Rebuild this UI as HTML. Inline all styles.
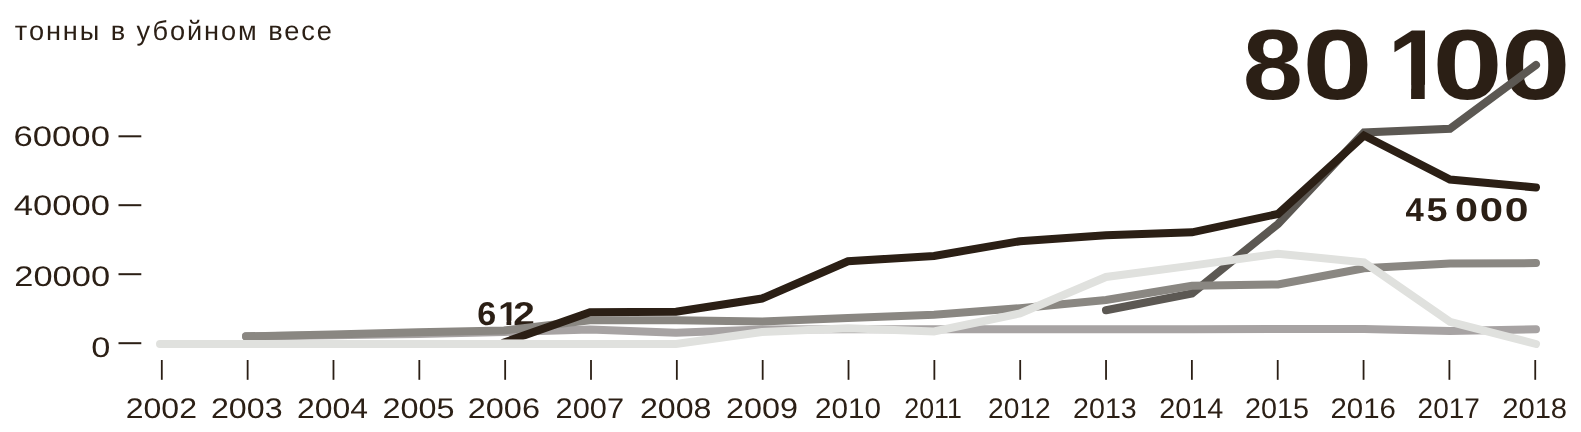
<!DOCTYPE html>
<html><head><meta charset="utf-8"><style>
html,body{margin:0;padding:0;background:#fff;}
body{width:1581px;height:432px;overflow:hidden;}
svg{display:block;will-change:transform}
text{font-family:"Liberation Sans",sans-serif;fill:#2b1f15;text-rendering:geometricPrecision;}
.ax{font-size:28.4px;}
.title{font-size:27.2px;}
.big{font-size:99.6px;font-weight:bold;}
.lab{font-size:33px;font-weight:bold;}
polyline{fill:none;stroke-width:8.0;stroke-linecap:round;stroke-linejoin:miter;}
</style></head><body>
<svg width="1581" height="432" viewBox="0 0 1581 432">
<defs><clipPath id="cg1"><rect x="0" y="0" width="1581" height="84.76"/><rect x="1411.10" y="0" width="13.62" height="432"/></clipPath><clipPath id="ck1"><rect x="0" y="0" width="1581" height="320.87"/><rect x="506.49" y="0" width="4.75" height="432"/></clipPath></defs>
<text id="title" class="title" x="14.82" y="40.02" textLength="317.04" lengthAdjust="spacing">тонны в убойном весе</text>
<text id="y60" class="ax" transform="translate(13.53 145.91) scale(1.2207 1)">60000</text>
<text id="y40" class="ax" transform="translate(13.87 214.74) scale(1.2179 1)">40000</text>
<text id="y20" class="ax" transform="translate(14.28 286.00) scale(1.2131 1)">20000</text>
<text id="y0" class="ax" transform="translate(91.13 356.87) scale(1.2099 1)">0</text>
<text id="x2002" class="ax" transform="translate(125.70 417.75) scale(1.1280 1)">2002</text>
<text id="x2003" class="ax" transform="translate(210.92 417.75) scale(1.1343 1)">2003</text>
<text id="x2004" class="ax" transform="translate(297.01 417.75) scale(1.1236 1)">2004</text>
<text id="x2005" class="ax" transform="translate(382.42 417.75) scale(1.1392 1)">2005</text>
<text id="x2006" class="ax" transform="translate(467.75 417.75) scale(1.1431 1)">2006</text>
<text id="x2007" class="ax" transform="translate(555.62 417.75) scale(1.0843 1)">2007</text>
<text id="x2008" class="ax" transform="translate(639.94 417.75) scale(1.1325 1)">2008</text>
<text id="x2009" class="ax" transform="translate(726.06 417.75) scale(1.1401 1)">2009</text>
<text id="x2010" class="ax" transform="translate(815.04 417.75) scale(1.0435 1)">2010</text>
<text id="x2011" class="ax" transform="translate(904.30 417.75) scale(0.9421 1)">2011</text>
<text id="x2012" class="ax" transform="translate(988.11 417.75) scale(0.9916 1)">2012</text>
<text id="x2013" class="ax" transform="translate(1073.07 417.75) scale(1.0077 1)">2013</text>
<text id="x2014" class="ax" transform="translate(1159.24 417.75) scale(1.0157 1)">2014</text>
<text id="x2015" class="ax" transform="translate(1245.11 417.75) scale(1.0131 1)">2015</text>
<text id="x2016" class="ax" transform="translate(1330.53 417.75) scale(1.0351 1)">2016</text>
<text id="x2017" class="ax" transform="translate(1417.62 417.75) scale(0.9861 1)">2017</text>
<text id="x2018" class="ax" transform="translate(1502.15 417.75) scale(1.0284 1)">2018</text>
<text id="g8" class="big" transform="translate(1242.83 98.70) scale(1.0874 1)">8</text>
<text id="g0a" class="big" transform="translate(1302.57 98.70) scale(1.2651 1)">0</text>
<g clip-path="url(#cg1)"><text id="g1" class="big" transform="translate(1387.56 98.70) scale(1.0169 1)">1</text></g>
<text id="g0b" class="big" transform="translate(1432.41 98.70) scale(1.2677 1)">0</text>
<text id="g0c" class="big" transform="translate(1500.96 98.70) scale(1.2564 1)">0</text>
<text id="h4" class="lab" transform="translate(1405.52 221.40) scale(0.9965 1)">4</text>
<text id="h5" class="lab" transform="translate(1426.40 221.40) scale(1.1473 1)">5</text>
<text id="h0a" class="lab" transform="translate(1455.04 221.40) scale(1.2525 1)">0</text>
<text id="h0b" class="lab" transform="translate(1479.68 221.40) scale(1.2692 1)">0</text>
<text id="h0c" class="lab" transform="translate(1504.72 221.40) scale(1.2941 1)">0</text>
<text id="k6" class="lab" transform="translate(477.20 325.49) scale(1.0312 1)">6</text>
<g clip-path="url(#ck1)"><text id="k1" class="lab" transform="translate(498.22 325.49) scale(1.0780 1)">1</text></g>
<text id="k2" class="lab" transform="translate(513.31 325.27) scale(1.1746 1)">2</text>
<rect x="118.5" y="135.30" width="22.8" height="2" fill="#2b1f15"/>
<rect x="118.5" y="204.20" width="22.8" height="2" fill="#2b1f15"/>
<rect x="118.5" y="273.20" width="22.8" height="2" fill="#2b1f15"/>
<rect x="118.5" y="342.20" width="22.8" height="2" fill="#2b1f15"/>
<rect x="160.90" y="360" width="1.8" height="19.8" fill="#2b1f15"/>
<rect x="246.74" y="360" width="1.8" height="19.8" fill="#2b1f15"/>
<rect x="332.58" y="360" width="1.8" height="19.8" fill="#2b1f15"/>
<rect x="418.42" y="360" width="1.8" height="19.8" fill="#2b1f15"/>
<rect x="504.26" y="360" width="1.8" height="19.8" fill="#2b1f15"/>
<rect x="590.10" y="360" width="1.8" height="19.8" fill="#2b1f15"/>
<rect x="675.94" y="360" width="1.8" height="19.8" fill="#2b1f15"/>
<rect x="761.78" y="360" width="1.8" height="19.8" fill="#2b1f15"/>
<rect x="847.62" y="360" width="1.8" height="19.8" fill="#2b1f15"/>
<rect x="933.46" y="360" width="1.8" height="19.8" fill="#2b1f15"/>
<rect x="1019.30" y="360" width="1.8" height="19.8" fill="#2b1f15"/>
<rect x="1105.14" y="360" width="1.8" height="19.8" fill="#2b1f15"/>
<rect x="1190.98" y="360" width="1.8" height="19.8" fill="#2b1f15"/>
<rect x="1276.82" y="360" width="1.8" height="19.8" fill="#2b1f15"/>
<rect x="1362.66" y="360" width="1.8" height="19.8" fill="#2b1f15"/>
<rect x="1448.50" y="360" width="1.8" height="19.8" fill="#2b1f15"/>
<rect x="1534.34" y="360" width="1.8" height="19.8" fill="#2b1f15"/>
<clipPath id="cb"><rect x="0" y="0" width="1581" height="339.6"/></clipPath>
<polyline points="1106.0,310.3 1192.0,293.5 1278.0,224.0 1364.0,132.5 1450.0,128.7 1536.0,65.0" stroke="#5c5853"/>
<polyline points="246.0,336.3 332.0,335.2 418.0,334.0 504.0,332.0 590.0,329.6 676.0,332.7 762.0,329.5 848.0,329.3 934.0,329.3 1020.0,329.2 1106.0,329.2 1192.0,329.2 1278.0,329.1 1364.0,329.0 1450.0,331.0 1536.0,329.2" stroke="#a7a3a3"/>
<polyline points="246.0,336.3 332.0,334.6 418.0,332.3 504.0,330.5 590.0,320.3 676.0,320.2 762.0,321.5 848.0,318.0 934.0,314.8 1020.0,308.2 1106.0,300.0 1192.0,285.7 1278.0,284.5 1364.0,268.2 1450.0,263.6 1536.0,263.1" stroke="#8a8782"/>
<polyline points="504.0,342.5 590.0,312.3 676.0,311.7 762.0,298.5 848.0,261.3 934.0,255.9 1020.0,241.2 1106.0,235.2 1192.0,232.3 1278.0,214.0 1364.0,135.5 1450.0,179.5 1536.0,187.5" stroke="#2b1f15" clip-path="url(#cb)"/>
<polyline points="160.0,344.0 246.0,344.0 332.0,344.0 418.0,344.0 504.0,344.0 590.0,344.0 676.0,344.0 762.0,332.0 848.0,328.3 934.0,331.4 1020.0,313.4 1106.0,277.0 1192.0,265.6 1278.0,253.7 1364.0,262.3 1450.0,321.8 1536.0,344.0" stroke="#e0e1de"/>
</svg>
</body></html>
